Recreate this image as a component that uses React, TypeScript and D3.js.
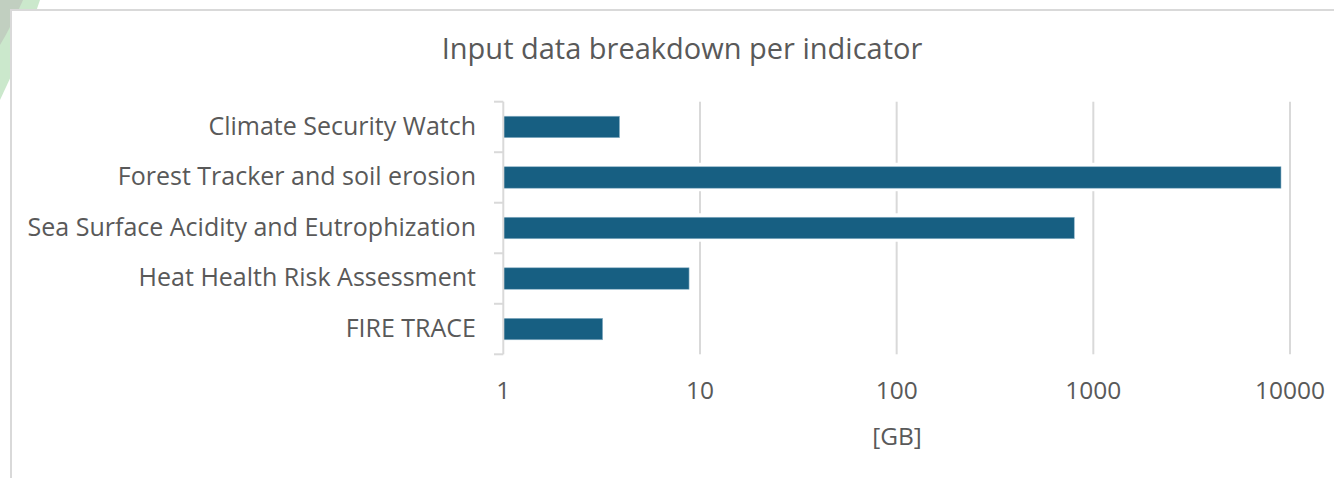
import React from "react";
import * as d3 from "d3";

const categories = [
  "Climate Security Watch",
  "Forest Tracker and soil erosion",
  "Sea Surface Acidity and Eutrophization",
  "Heat Health Risk Assessment",
  "FIRE TRACE",
];
const valuesGB = [3.9, 9000, 800, 8.8, 3.2];
const tickValues = [1, 10, 100, 1000, 10000];
const title = "Input data breakdown per indicator";
const axisTitle = "[GB]";

const W = 1334;
const H = 478;
const plot = { left: 503.3, right: 1290, top: 101.7, bottom: 354.3 };
const textColor = "#595959";
const gridColor = "#d9d9d9";
const barColor = "#175f82";
const font = "'Open Sans', Roboto, sans-serif";

export default function App() {
  const x = d3.scaleLog().domain([1, 10000]).range([plot.left, plot.right]);
  const y = d3
    .scaleBand<string>()
    .domain(categories)
    .range([plot.top, plot.bottom])
    .paddingInner(0.575)
    .paddingOuter(0.2875);
  const bandStep = (plot.bottom - plot.top) / categories.length;
  const tickYs = d3.range(categories.length + 1).map((i) => plot.top + i * bandStep);

  return (
    <div style={{ position: "absolute", left: 0, top: 0, width: W, height: H, overflow: "hidden" }}>
      <svg width={W} height={H} style={{ display: "block" }}>
        <rect x={0} y={0} width={W} height={H} fill="#ffffff" />
        {/* background decoration */}
        <path d="M 0 0 L 40 0 Q 22 55 0 100 Z" fill="#cbe8cc" />
        <path d="M 0 0 L 23 0 Q 12 25 0 45 Z" fill="#c1cfc0" />
        {/* chart frame */}
        <rect x={11} y={10} width={1400} height={600} fill="#ffffff" stroke={gridColor} strokeWidth={2} />
        {/* title */}
        <text x={682} y={59} textAnchor="middle" fontFamily={font} fontSize={29} fill={textColor}>
          {title}
        </text>
        {/* gridlines */}
        {tickValues.slice(1).map((t) => (
          <line key={t} x1={x(t)} x2={x(t)} y1={plot.top} y2={plot.bottom} stroke={gridColor} strokeWidth={2} />
        ))}
        {/* bars */}
        {categories.map((c, i) => (
          <g key={c}>
            <rect
              x={plot.left}
              y={(y(c) as number) - 4}
              width={x(valuesGB[i]) - plot.left + 1}
              height={y.bandwidth() + 7}
              fill="#ffffff"
            />
            <rect
              x={plot.left}
              y={y(c) as number}
              width={x(valuesGB[i]) - plot.left}
              height={y.bandwidth()}
              fill={barColor}
              stroke="#8fb4c8"
              strokeWidth={0.6}
            />
          </g>
        ))}
        {/* y axis */}
        <line x1={plot.left} x2={plot.left} y1={plot.top} y2={plot.bottom} stroke={gridColor} strokeWidth={2} />
        {tickYs.map((ty, i) => (
          <line key={i} x1={494} x2={plot.left} y1={ty} y2={ty} stroke={gridColor} strokeWidth={2} />
        ))}
        {categories.map((c) => (
          <text
            key={c}
            x={476}
            y={(y(c) as number) + y.bandwidth() / 2 - 1}
            dy="0.35em"
            textAnchor="end"
            fontFamily={font}
            fontSize={25}
            fill={textColor}
          >
            {c}
          </text>
        ))}
        {/* x tick labels */}
        {tickValues.map((t) => (
          <text key={t} x={x(t)} y={399} textAnchor="middle" fontFamily={font} fontSize={24.5} fill={textColor}>
            {String(t)}
          </text>
        ))}
        <text x={897} y={445} textAnchor="middle" fontFamily={font} fontSize={24.5} fill={textColor}>
          {axisTitle}
        </text>
      </svg>
    </div>
  );
}
